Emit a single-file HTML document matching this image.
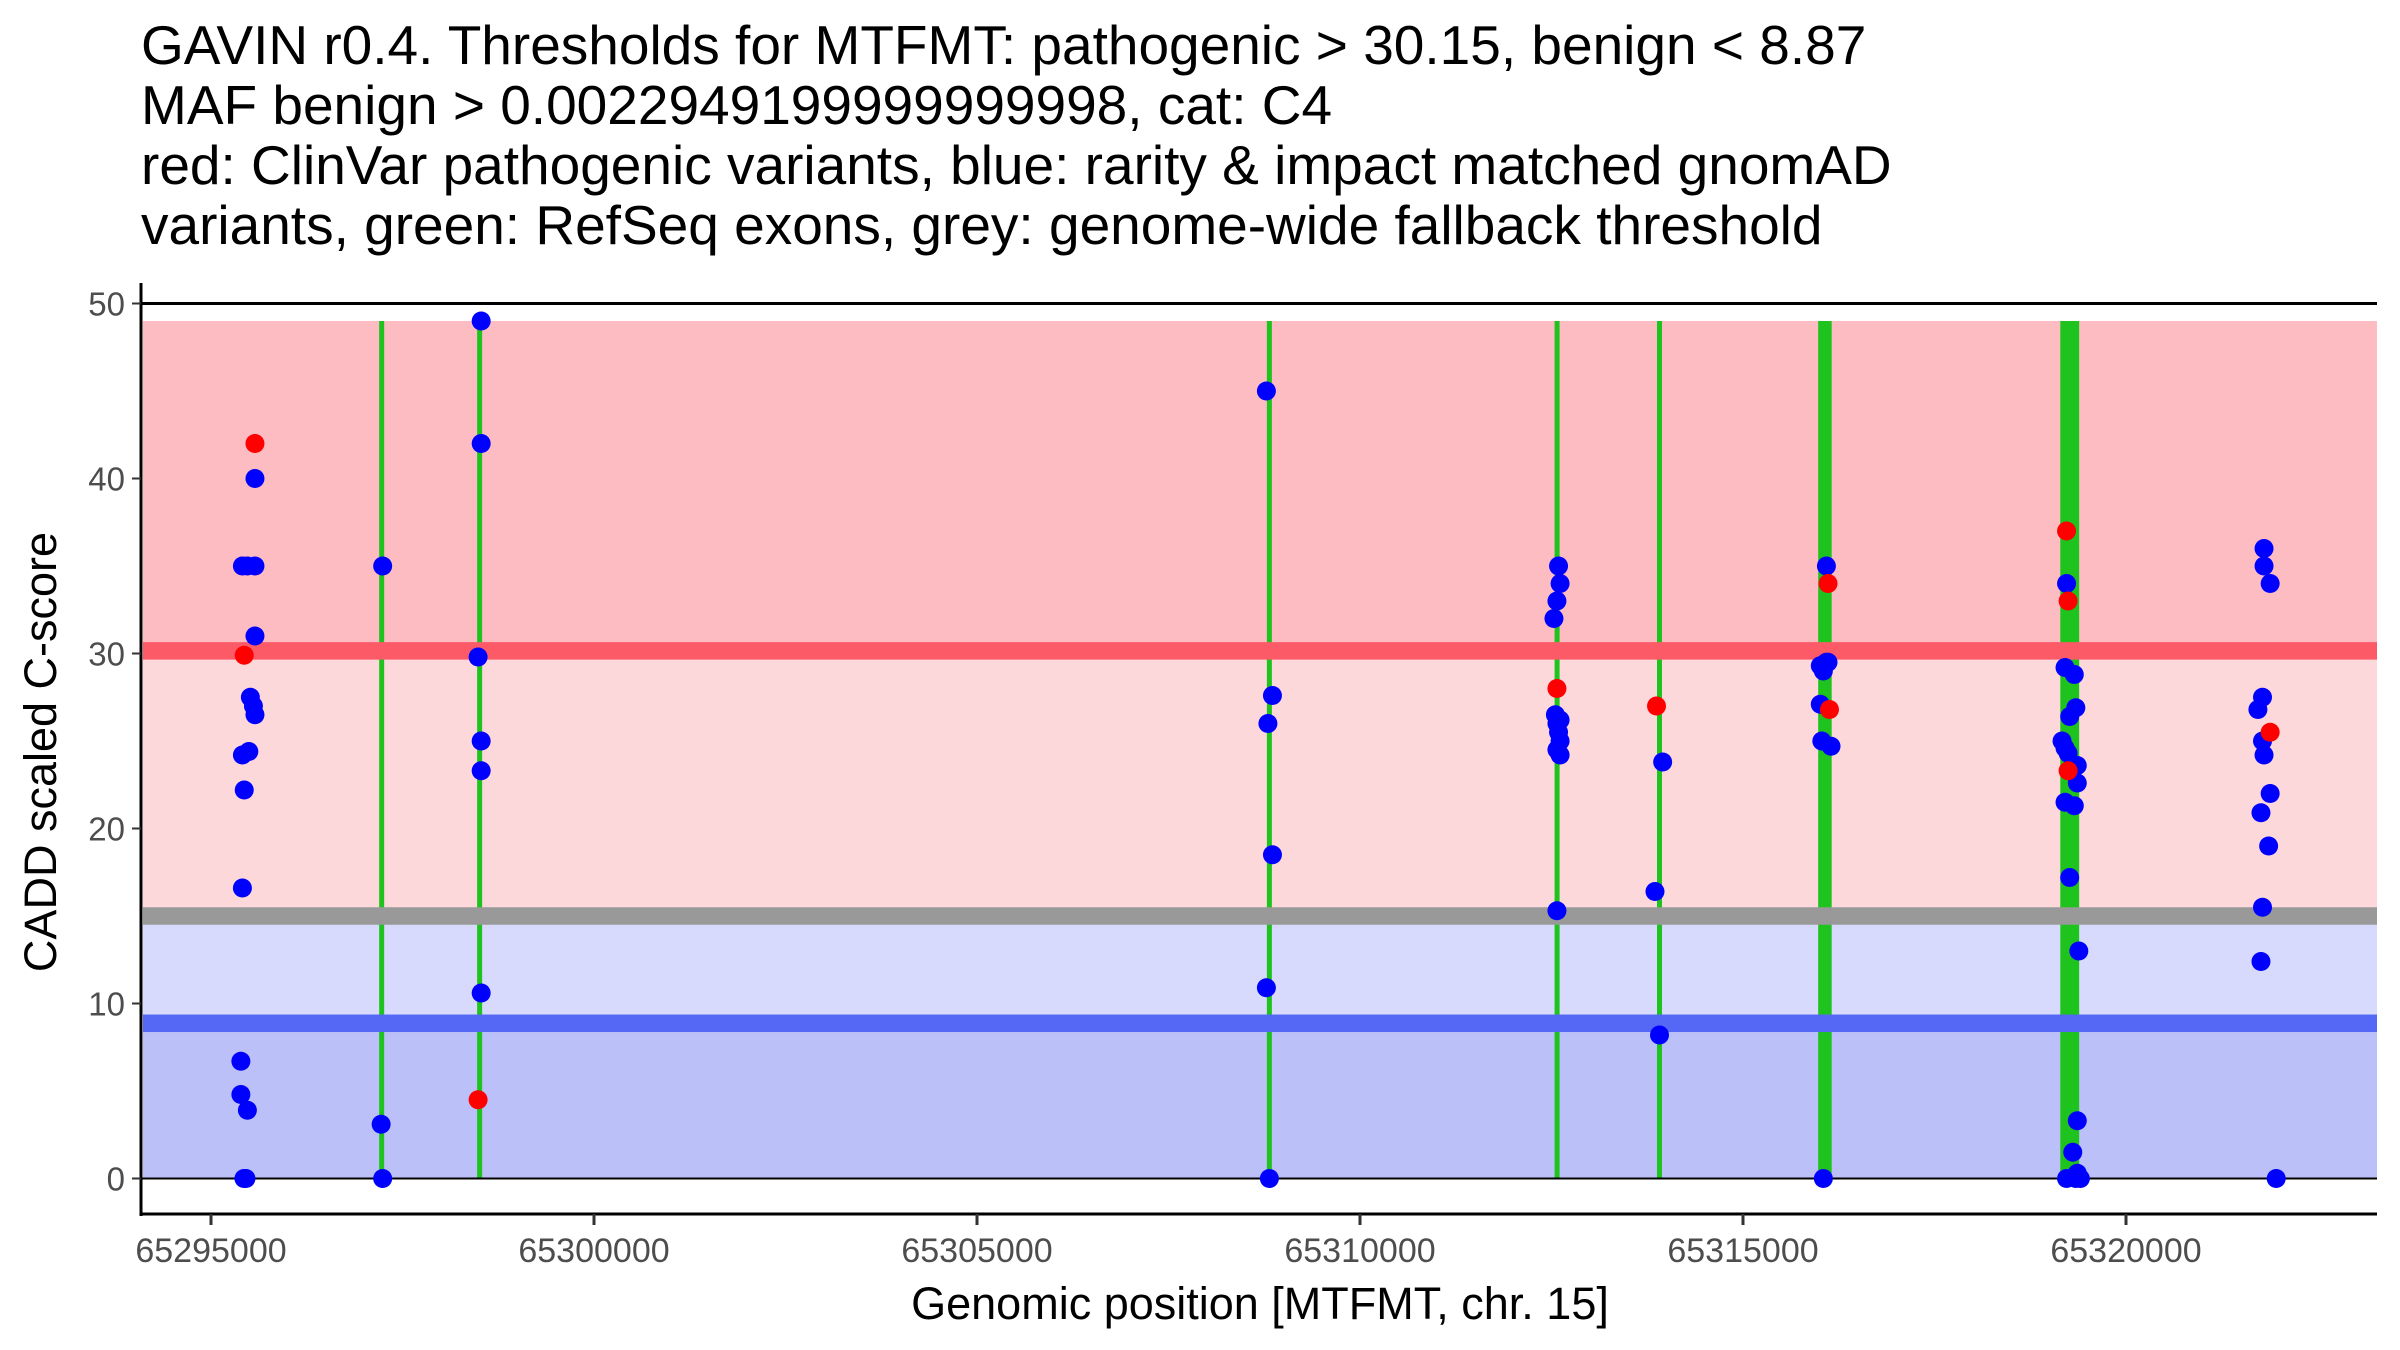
<!DOCTYPE html>
<html><head><meta charset="utf-8"><style>
html,body{margin:0;padding:0;background:#fff}
svg{display:block;font-family:"Liberation Sans",sans-serif}
</style></head><body>
<svg id="chart" width="2400" height="1350" viewBox="0 0 2400 1350" xmlns="http://www.w3.org/2000/svg">
<g font-size="55" fill="#000">
<text x="141" y="64">GAVIN r0.4. Thresholds for MTFMT: pathogenic &gt; 30.15, benign &lt; 8.87</text>
<text x="141" y="124">MAF benign &gt; 0.0022949199999999998, cat: C4</text>
<text x="141" y="184">red: ClinVar pathogenic variants, blue: rarity &amp; impact matched gnomAD</text>
<text x="141" y="244">variants, green: RefSeq exons, grey: genome-wide fallback threshold</text>
</g>
<g id="bands"></g>
<g id="exons"></g>
<g id="hlines"></g>
<g id="points"></g>
<g id="axes"></g>
<text x="1260" y="1319" font-size="45" text-anchor="middle">Genomic position [MTFMT, chr. 15]</text>
<text transform="translate(56,752) rotate(-90)" font-size="45" text-anchor="middle">CADD scaled C-score</text>
</svg>
<script>
const pathogenicThreshold = 30.15;
const benignThreshold = 8.87;
const fallbackThreshold = 15;
const bandTop = 49;
const yTicks = [0, 10, 20, 30, 40, 50];
const xTicks = [65295000, 65300000, 65305000, 65310000, 65315000, 65320000];
const exonStarts = [65297228, 65298507, 65308817, 65312573, 65313910, 65316014, 65319175];
const exonEnds   = [65297228, 65298507, 65308817, 65312573, 65313910, 65316125, 65319356];
const blueX = [65295574,65295574,65295410,65295475,65295574,65295514,65295554,65295574,65295494,65295410,65295434,65295410,65295390,65295390,65295475,65295430,65295456,
65297241,65297221,65297241,
65298527,65298527,65298487,65298527,65298527,65298527,
65308778,65308857,65308798,65308857,65308778,65308817,
65312592,65312612,65312571,65312532,65312551,65312612,65312571,65312592,65312612,65312571,65312612,65312571,
65313951,65313851,65313910,
65316089,65316089,65316009,65316110,65316049,65316009,65316029,65316149,65316049,
65319224,65319204,65319325,65319345,65319265,65319165,65319204,65319244,65319364,65319364,65319204,65319325,65319265,65319384,65319364,65319305,65319364,65319224,65319345,65319404,
65321802,65321802,65321882,65321782,65321722,65321782,65321802,65321882,65321762,65321862,65321782,65321762,65321961];
const blueY = [40,35,35,35,31,27.5,27,26.5,24.4,24.2,22.2,16.6,6.7,4.8,3.9,0,0,
35,3.1,0,
49,42,29.8,25,23.3,10.6,
45,27.6,26,18.5,10.9,0,
35,34,33,32,26.5,26.2,26,25.5,25,24.5,24.2,15.3,
23.8,16.4,8.2,
35,29.5,29.3,29.5,29,27.1,25,24.7,0,
34,29.2,28.8,26.9,26.4,25,24.6,24.3,23.6,22.6,21.5,21.3,17.2,13,3.3,1.5,0.3,0,0,0,
36,35,34,27.5,26.8,25,24.2,22,20.9,19,15.5,12.4,0];
const redX = [65295574,65295434,65298487,65312571,65313871,65316110,65316129,65319224,65319244,65319244,65321882];
const redY = [42,29.9,4.5,28,27,34,26.8,37,33,23.3,25.5];

const NS='http://www.w3.org/2000/svg';
const xMin=65295000, x0px=211, pxPerBp=383/5000;
const y0px=1178.5, pxPerUnit=17.5;
const plotL=141, plotR=2377;
function xs(v){return x0px+(v-xMin)*pxPerBp;}
function ys(v){return y0px-v*pxPerUnit;}
function mk(tag,attrs,parent){const e=document.createElementNS(NS,tag);for(const k in attrs)e.setAttribute(k,attrs[k]);parent.appendChild(e);return e;}
const bands=document.getElementById('bands');
const bandDefs=[[bandTop,pathogenicThreshold,'#fdbcc1','band-pathogenic'],[pathogenicThreshold,fallbackThreshold,'#fdd8db','band-uncertain'],[fallbackThreshold,benignThreshold,'#d7dafc','band-light-benign'],[benignThreshold,0,'#bbc0f9','band-benign']];
bandDefs.forEach(b=>{
  const r=mk('rect',{x:plotL+2,y:ys(b[0]),width:plotR-plotL-2,height:ys(b[1])-ys(b[0]),fill:b[2]},bands);
  
  
});
const hl=document.getElementById('hlines');
[[pathogenicThreshold,'#fd5a68','pathogenic-threshold-line'],[fallbackThreshold,'#999999','fallback-threshold-line'],[benignThreshold,'#5468f5','benign-threshold-line']].forEach(l=>{
  const r=mk('rect',{x:plotL+2,y:ys(l[0]+0.5),width:plotR-plotL-2,height:pxPerUnit,fill:l[1]},hl);
  
  
});
[0,50].forEach(v=>{
  const l=mk('line',{x1:plotL,x2:plotR,y1:ys(v),y2:ys(v),stroke:'#000','stroke-width':v===0?2:3},hl);
  
  
});
const ex=document.getElementById('exons');
exonStarts.forEach((s,i)=>{
  const xa=xs(s), xb=xs(exonEnds[i]);
  const r=mk('rect',{x:xa-2.5,y:ys(bandTop),width:(xb-xa)+5,height:ys(0)-ys(bandTop),fill:'#1ec31e'},ex);
  
  
});
const pts=document.getElementById('points');
blueX.forEach((x,i)=>{
  const c=mk('circle',{cx:xs(x),cy:ys(blueY[i]),r:9.5,fill:'#0000ff'},pts);
  
  
});
redX.forEach((x,i)=>{
  const c=mk('circle',{cx:xs(x),cy:ys(redY[i]),r:9.5,fill:'#ff0000'},pts);
  
  
});
const ax=document.getElementById('axes');
const ya=mk('line',{x1:plotL,x2:plotL,y1:283,y2:1216,stroke:'#000','stroke-width':3},ax);


const xa=mk('line',{x1:plotL-1.5,x2:plotR,y1:1214,y2:1214,stroke:'#000','stroke-width':3},ax);


yTicks.forEach(v=>{
  const t=mk('line',{x1:plotL-9,x2:plotL,y1:ys(v),y2:ys(v),stroke:'#333','stroke-width':2},ax);
  
  
  const tx=mk('text',{x:plotL-16,y:ys(v)+12,'font-size':33,fill:'#4d4d4d','text-anchor':'end'},ax);
  tx.textContent=v;
  
  
});
xTicks.forEach(v=>{
  const t=mk('line',{x1:xs(v),x2:xs(v),y1:1214,y2:1225,stroke:'#333','stroke-width':3},ax);
  
  
  const tx=mk('text',{x:xs(v),y:1262,'font-size':34,fill:'#4d4d4d','text-anchor':'middle'},ax);
  tx.textContent=v;
  
  
});
</script>
</body></html>
